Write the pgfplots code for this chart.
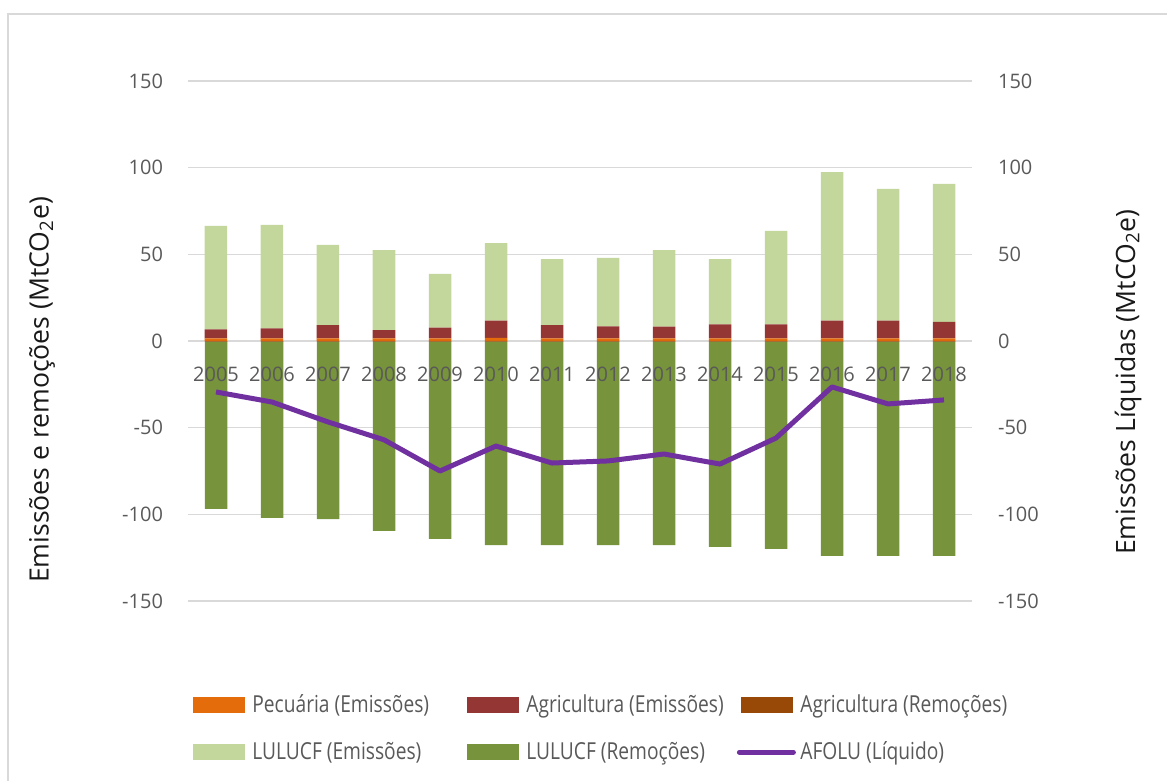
\documentclass[border=0pt]{standalone}
\usepackage{fontspec}
\setmainfont{Open Sans}
\newfontfamily\legfont{Open Sans}[FakeStretch=0.82]
\usepackage{pgfplots}
\usepackage{pgfplotstable}
\pgfplotsset{compat=1.18}
\definecolor{cPec}{HTML}{E46C0A}
\definecolor{cAgE}{HTML}{943634}
\definecolor{cAgR}{HTML}{984807}
\definecolor{cLuE}{HTML}{C3D69B}
\definecolor{cLuR}{HTML}{77933C}
\definecolor{cNet}{HTML}{7030A0}
\definecolor{gridgray}{HTML}{D9D9D9}
\definecolor{tickgray}{HTML}{595959}

\pgfplotstableread{
x pec agE agR luE luR net
0  1.5 5.2  -0.3 59.7 -96.6  -29.4
1  1.5 5.8  -0.3 59.7 -101.7 -35.2
2  1.5 7.7  -0.3 46.2 -102.4 -46.7
3  1.5 4.8  -0.3 46.2 -109.3 -57.0
4  1.5 6.2  -0.3 31.0 -113.9 -75.0
5  1.8 9.9  -0.3 44.8 -117.4 -60.6
6  1.5 7.7  -0.3 38.1 -117.4 -70.4
7  1.5 7.0  -0.3 39.4 -117.4 -69.2
8  1.5 6.8  -0.3 44.2 -117.4 -65.2
9  1.5 8.1  -0.3 37.7 -118.5 -71.0
10 1.5 8.1  -0.3 53.9 -119.7 -56.0
11 1.5 10.2 -0.3 85.8 -123.7 -26.5
12 1.5 10.2 -0.3 76.0 -123.7 -36.3
13 1.5 9.6  -0.3 79.5 -123.7 -34.0
}\data

\newcommand\legtxt[1]{\hspace{2pt}\makebox[106pt][l]{#1}}

\pgfplotsset{
  base/.style={
    scale only axis, width=392pt, height=260pt,
    at={(0,0)}, anchor=south west,
    xmin=-0.5, xmax=13.5, ymin=-150, ymax=150,
    axis line style={draw=none}, major tick length=0pt,
    tick label style={text=tickgray, font=\fontsize{10}{12}\selectfont},
  },
}

\begin{document}
\begin{tikzpicture}
\useasboundingbox (-94pt,-90pt) rectangle (489.5pt,300.5pt);
\draw[gridgray, line width=0.75pt] (-90pt,-95pt) -- (-90pt,293.5pt) -- (495pt,293.5pt);

% positive stacks
\begin{axis}[base, ybar stacked, bar width=11.25pt,
  ytick={-150,-100,-50,0,50,100,150},
  yticklabels={-150,-100,-50,0,50,100,150},
  yticklabel style={xshift=-9pt},
  xtick=\empty,
  ymajorgrids, grid style={draw=gridgray, line width=0.75pt},
  ylabel={Emissões e remoções (MtCO\textsubscript{2}e)},
  every axis y label/.style={at={(axis description cs:-0.186,0.406)}, rotate=90, anchor=center,
    font=\fontsize{13.3}{16}\selectfont, text=black!90},
  legend columns=3,
  legend style={at={(axis description cs:0.0064,-0.173)}, anchor=north west,
    draw=none, fill=none, inner sep=0pt, font=\legfont\fontsize{11.7}{14}\selectfont, text=tickgray,
    nodes={inner sep=1.5pt}, row sep=10.25pt},
  legend cell align=left,
  area legend,
  legend image code/.code={\fill[#1] (0pt,-4pt) rectangle (26pt,4pt);},
]
\addplot[fill=cPec, draw=none, forget plot] table[x=x, y=pec] {\data};
\addplot[fill=cAgE, draw=none, forget plot] table[x=x, y=agE] {\data};
\addplot[fill=cLuE, draw=none, forget plot] table[x=x, y=luE] {\data};
\addlegendimage{fill=cPec, draw=none}
\addlegendentry{\legtxt{Pecuária (Emissões)}}
\addlegendimage{fill=cAgE, draw=none}
\addlegendentry{\legtxt{Agricultura (Emissões)}}
\addlegendimage{fill=cAgR, draw=none}
\addlegendentry{\legtxt{Agricultura (Remoções)}}
\addlegendimage{fill=cLuE, draw=none}
\addlegendentry{\legtxt{LULUCF (Emissões)}}
\addlegendimage{fill=cLuR, draw=none}
\addlegendentry{\legtxt{LULUCF (Remoções)}}
\addlegendimage{legend image code/.code={\path[draw=none, fill=none] (0pt,-4pt) rectangle (25pt,4pt); \draw[overlay, cNet, line width=2.5pt, line cap=round] (-1pt,0pt) -- (26pt,0pt);}}
\addlegendentry{\legtxt{AFOLU (Líquido)}}
\end{axis}

% negative stacks
\begin{axis}[base, ybar stacked, bar width=11.25pt,
  ytick=\empty, xtick=\empty,
]
\addplot[fill=cAgR, draw=none] table[x=x, y=agR] {\data};
\addplot[fill=cLuR, draw=none] table[x=x, y=luR] {\data};
\end{axis}

% year labels and net line on the secondary axis
\begin{axis}[base,
  xtick={0,...,13},
  xticklabels={2005,2006,2007,2008,2009,2010,2011,2012,2013,2014,2015,2016,2017,2018},
  xticklabel style={yshift=120.3pt},
  ytick={-150,-100,-50,0,50,100,150},
  yticklabels={-150,-100,-50,0,50,100,150},
  yticklabel pos=right,
  yticklabel style={xshift=9.5pt},
  ylabel={Emissões Líquidas (MtCO\textsubscript{2}e)},
  every axis y label/.style={at={(axis description cs:1.199,0.421)}, rotate=90, anchor=center,
    font=\fontsize{13.3}{16}\selectfont, text=black!90},
]
\addplot[cNet, line width=2.5pt, line join=round] table[x=x, y=net] {\data};
\end{axis}
\end{tikzpicture}
\end{document}
